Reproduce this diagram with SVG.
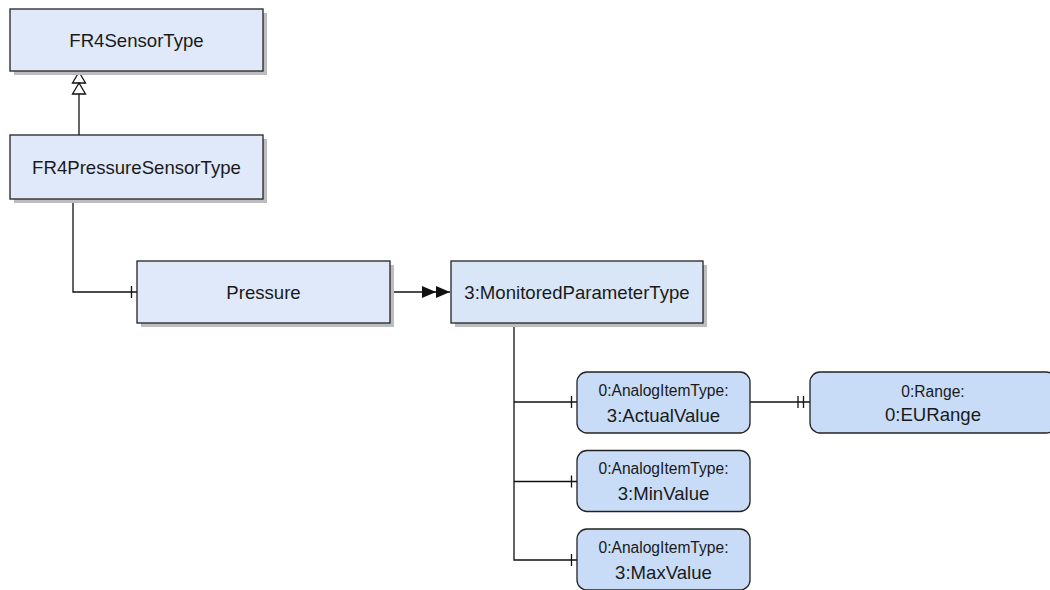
<svg xmlns="http://www.w3.org/2000/svg" width="1050" height="590" viewBox="0 0 1050 590">
  <style>
    .shadow { fill: #bdbdbd; }
    .box { fill: #e0e9fa; stroke: #222; stroke-width: 1.3; }
    .box2 { fill: #d9e6f8; stroke: #222; stroke-width: 1.3; }
    .obj { fill: #c8dcf8; stroke: #222; stroke-width: 1.3; }
    .lbl { font-family: "Liberation Sans", Arial, sans-serif; font-size: 18.6px; fill: #1a1a1a; text-anchor: middle; }
    .small { font-family: "Liberation Sans", Arial, sans-serif; font-size: 15.6px; fill: #1a1a1a; text-anchor: middle; }
    .conn { fill: none; stroke: #111; stroke-width: 1.3; }
    .tick { stroke: #111; stroke-width: 1.3; }
    .hollow { fill: #fff; stroke: #111; stroke-width: 1.3; stroke-linejoin: miter; }
  </style>
  <defs>
    <marker id="dblArrow" markerWidth="30" markerHeight="14" refX="29" refY="7" orient="auto" markerUnits="userSpaceOnUse" viewBox="0 0 30 14">
      <path d="M1 1 L15 7 L1 13 Z M15 1 L29 7 L15 13 Z" fill="#111"/>
    </marker>
  </defs>

  <g id="connectors">
    <!-- generalization: two stacked hollow triangles -->
    <line class="conn" x1="79" y1="135" x2="79" y2="94"/>
    <polygon class="hollow" points="79,72 72.5,83 85.5,83"/>
    <polygon class="hollow" points="79,83 72.5,94 85.5,94"/>
    <!-- FR4PressureSensorType to Pressure -->
    <polyline class="conn" points="73,199 73,292 137,292"/>
    <line class="tick" x1="131.5" y1="286" x2="131.5" y2="298"/>
    <!-- Pressure to type -->
    <line class="conn" x1="390" y1="292" x2="450" y2="292" marker-end="url(#dblArrow)"/>
    <!-- components of the monitored parameter -->
    <polyline class="conn" points="514,323 514,560 577,560"/>
    <line class="conn" x1="514" y1="402" x2="577" y2="402"/>
    <line class="conn" x1="514" y1="481.5" x2="577" y2="481.5"/>
    <line class="tick" x1="571.5" y1="396" x2="571.5" y2="408"/>
    <line class="tick" x1="571.5" y1="475.5" x2="571.5" y2="487.5"/>
    <line class="tick" x1="571.5" y1="554" x2="571.5" y2="566"/>
    <!-- ActualValue to EURange -->
    <line class="conn" x1="750" y1="402" x2="810" y2="402"/>
    <line class="tick" x1="798" y1="396" x2="798" y2="408"/>
    <line class="tick" x1="803.5" y1="396" x2="803.5" y2="408"/>
  </g>

  <g id="FR4SensorType">
    <rect class="shadow" x="14" y="13" width="253" height="62"/>
    <rect class="box" x="10" y="9" width="253" height="62"/>
    <text class="lbl" x="136.5" y="46.5">FR4SensorType</text>
  </g>

  <g id="FR4PressureSensorType">
    <rect class="shadow" x="14" y="139" width="253" height="64"/>
    <rect class="box" x="10" y="135" width="253" height="64"/>
    <text class="lbl" x="136.5" y="173.5">FR4PressureSensorType</text>
  </g>

  <g id="Pressure">
    <rect class="shadow" x="141" y="265" width="253" height="62"/>
    <rect class="box" x="137" y="261" width="253" height="62"/>
    <text class="lbl" x="263.5" y="299">Pressure</text>
  </g>

  <g id="MonitoredParameterType">
    <rect class="shadow" x="455" y="265" width="252" height="62"/>
    <rect class="box2" x="451" y="261" width="252" height="62"/>
    <text class="lbl" x="577" y="299">3:MonitoredParameterType</text>
  </g>

  <g id="ActualValue">
    <rect class="obj" x="577" y="372" width="173" height="61" rx="10"/>
    <text class="small" x="663.5" y="395.5">0:AnalogItemType:</text>
    <text class="lbl" x="663.5" y="421.5">3:ActualValue</text>
  </g>

  <g id="MinValue">
    <rect class="obj" x="577" y="450.5" width="173" height="61" rx="10"/>
    <text class="small" x="663.5" y="474">0:AnalogItemType:</text>
    <text class="lbl" x="663.5" y="500">3:MinValue</text>
  </g>

  <g id="MaxValue">
    <rect class="obj" x="577" y="529" width="173" height="61" rx="10"/>
    <text class="small" x="663.5" y="552.5">0:AnalogItemType:</text>
    <text class="lbl" x="663.5" y="578.5">3:MaxValue</text>
  </g>

  <g id="EURange">
    <rect class="obj" x="810" y="372" width="246" height="61" rx="10"/>
    <text class="small" x="933" y="396.5">0:Range:</text>
    <text class="lbl" x="933" y="420.5">0:EURange</text>
  </g>
</svg>
